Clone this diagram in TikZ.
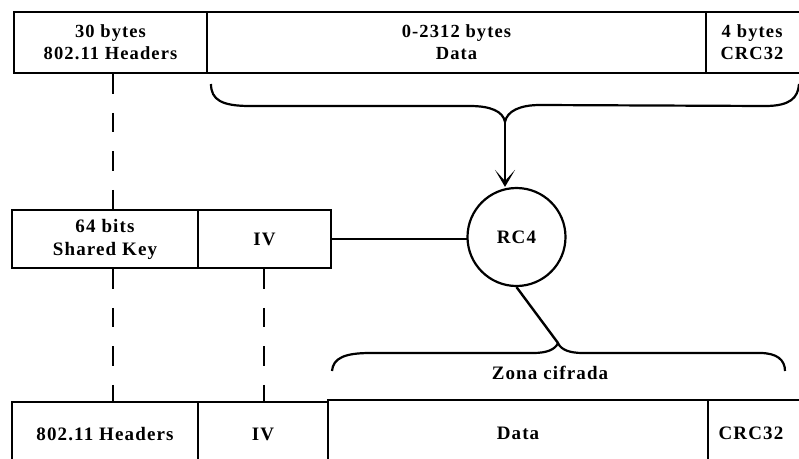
\documentclass[tikz,border=0pt]{standalone}
\usepackage{fontspec}
\setmainfont{Liberation Serif}[BoldFont={Liberation Serif Bold}, LetterSpace=6]
\usetikzlibrary{arrows.meta}
\begin{document}
\begin{tikzpicture}[x=1pt,y=-1pt,
  field/.style={draw, line width=2.6pt, inner sep=0pt, align=center,
    font=\fontsize{19}{23}\selectfont\bfseries},
  topfield/.style={field, font=\fontsize{18.5}{22}\selectfont\bfseries},
  dashline/.style={line width=2.6pt, dash pattern=on 19.5pt off 19pt},
  bracepath/.style={line width=2.2pt, line join=round},
  link/.style={line width=2.4pt}]
\useasboundingbox (0,0) rectangle (799,458);
\clip (0,0) rectangle (799,458);
% top frame
\node[topfield, minimum width=193pt, minimum height=61pt] (hdr) at (110.5,42.5) {30 bytes\\802.11 Headers};
\node[topfield, minimum width=499pt, minimum height=61pt] (data) at (456.5,42.5) {0-2312 bytes\\Data};
\node[topfield, minimum width=96pt, minimum height=61pt, text width=96pt] (crc) at (754,42.5) {\hspace*{-4pt}4 bytes\\\hspace*{-4pt}CRC32};
% key row
\node[field, minimum width=186pt, minimum height=58pt] (key) at (105,239) {64 bits\\Shared Key};
\node[field, minimum width=133pt, minimum height=58pt] (iv) at (264.5,239) {IV};
\node[circle, draw, line width=2.2pt, minimum size=98pt, inner sep=0pt,
  font=\fontsize{19}{23}\selectfont\bfseries] (rc4) at (516.5,237) {RC4};
% bottom frame
\node[field, minimum width=186pt, minimum height=64pt] (hdr2) at (105,434) {802.11 Headers};
\node[field, minimum width=130pt, minimum height=64pt] (iv2) at (263,434) {IV};
\node[field, minimum width=380pt, minimum height=66pt] (data2) at (518,433) {Data};
\node[field, minimum width=94pt, minimum height=66pt] (crc2) at (755,433) {\hspace*{-8pt}CRC32};
% braces
\coordinate (tb) at (505,122);
\coordinate (bb) at (558,343);
\draw[bracepath] (211,84) .. controls (211,100) and (222,106) .. (250,106)
  -- (470,106) .. controls (490,106) and (503,111) .. (tb)
  .. controls (507,111) and (520,105) .. (540,105)
  -- (765,106) .. controls (790,106) and (798,98) .. (799,84);
\draw[bracepath] (332,371) .. controls (333,358) and (345,353) .. (370,353)
  -- (533,353) .. controls (546,353) and (555,350) .. (bb)
  .. controls (561,350) and (570,353) .. (583,353)
  -- (760,353) .. controls (777,353) and (785,360) .. (785,371);
\node[font=\fontsize{19}{23}\selectfont\bfseries] (zona) at (550,373) {Zona cifrada};
% connectors
\draw[link, -{Stealth[length=17pt, width=20pt, inset=11pt]}] (tb) -- (tb |- rc4.north);
\draw[link] (iv.east) -- ([xshift=0.6pt]iv.east -| rc4.west);
\draw[link] (rc4.south) -- (bb);
\coordinate (d1) at (113,0);
\coordinate (d2) at (264,0);
\draw[dashline] (hdr.south -| d1) -- (key.north -| d1);
\draw[dashline] (key.south -| d1) -- (hdr2.north -| d1);
\draw[dashline] (iv.south -| d2) -- (iv2.north -| d2);
\end{tikzpicture}
\end{document}
